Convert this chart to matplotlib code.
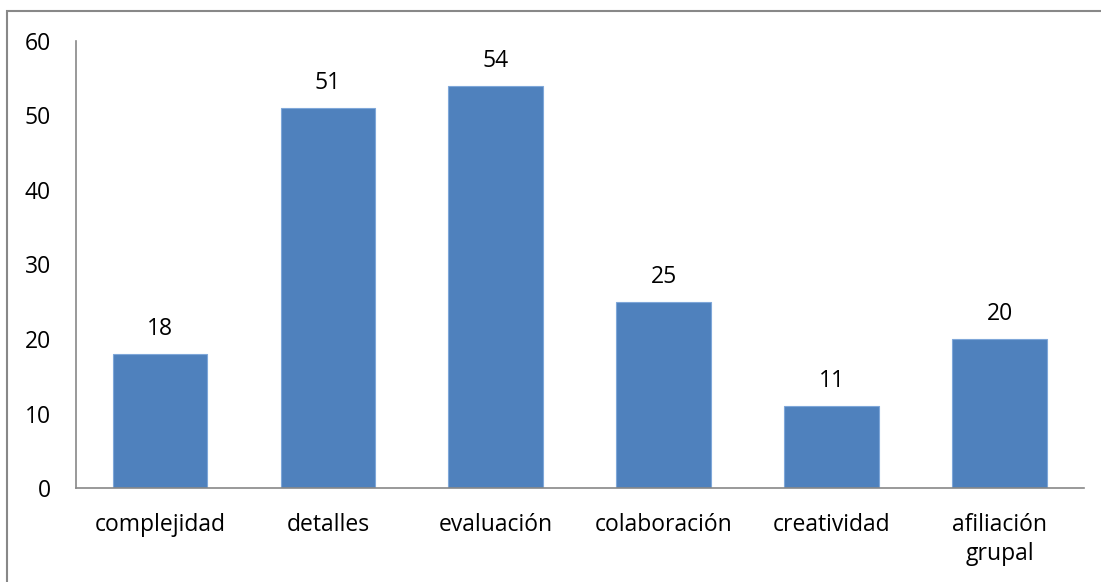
import matplotlib.pyplot as plt
from matplotlib.patches import Rectangle

categorias = ['complejidad', 'detalles', 'evaluación', 'colaboración',
              'creatividad', 'afiliación\ngrupal']
valores = [18, 51, 54, 25, 11, 20]
ticks_y = [0, 10, 20, 30, 40, 50, 60]

plt.rcParams['font.family'] = ['Open Sans', 'DejaVu Sans']

fig = plt.figure(figsize=(11.01, 5.82), dpi=100)
ax = fig.add_axes([0.069, 0.1615, 0.9155, 0.7681])

x = list(range(len(categorias)))
barras = ax.bar(x, valores, width=0.565, color='#4F81BD',
                edgecolor='#7FA7D9', linewidth=0.8)

for b, v in zip(barras, valores):
    ax.annotate(str(v), (b.get_x() + b.get_width() / 2, v),
                xytext=(0, 18), textcoords='offset points',
                ha='center', va='center', fontsize=16.5)

ax.set_xlim(-0.5, len(categorias) - 0.5)
ax.set_ylim(0, 60)
ax.set_yticks(ticks_y)
ax.set_xticks(x)
ax.set_xticklabels(categorias, fontsize=16.5, linespacing=1.25)
ax.tick_params(axis='y', labelsize=16.5, length=0, pad=18)
ax.tick_params(axis='x', length=0, pad=18)

for s in ['top', 'right']:
    ax.spines[s].set_visible(False)
for s in ['left', 'bottom']:
    ax.spines[s].set_color('#888888')
    ax.spines[s].set_linewidth(1.2)

# marco exterior del gráfico
fig.patches.append(Rectangle((7 / 1101, -0.05), 1.1, 1 - 11 / 582 + 0.05,
                             transform=fig.transFigure, fill=False,
                             edgecolor='#888888', linewidth=1.5))

fig.savefig('out.png', dpi=100)
